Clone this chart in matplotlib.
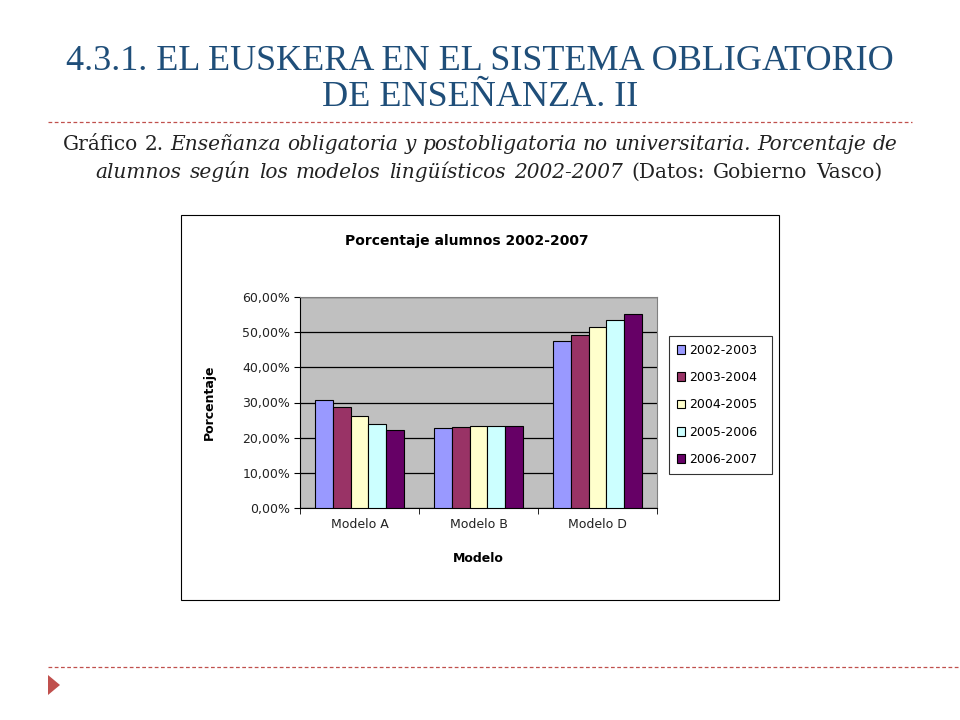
import matplotlib
matplotlib.use("Agg")
import matplotlib.pyplot as plt
from matplotlib.patches import Rectangle, Polygon
from matplotlib.ticker import FuncFormatter
import numpy as np

modelos = ["Modelo A", "Modelo B", "Modelo D"]
cursos = ["2002-2003", "2003-2004", "2004-2005", "2005-2006", "2006-2007"]
# porcentaje de alumnos por modelo, un array por curso
v_2002 = [30.6, 22.7, 47.4]
v_2003 = [28.6, 22.9, 49.1]
v_2004 = [26.1, 23.3, 51.4]
v_2005 = [23.8, 23.3, 53.4]
v_2006 = [22.1, 23.3, 55.2]
valores = [v_2002, v_2003, v_2004, v_2005, v_2006]
colores = ['#9999FF', '#993366', '#FFFFCC', '#CCFFFF', '#660066']

W, H = 960, 720
fig = plt.figure(figsize=(W / 100, H / 100), dpi=100)

def fx(px):
    return px / W

def fy(py):
    return 1 - py / H

sans = "DejaVu Sans"
azul = '#1F4E79'
rojo = '#C0504D'

# titulo de la diapositiva
fig.text(0.5, fy(62), "4.3.1. EL EUSKERA EN EL SISTEMA OBLIGATORIO",
         ha='center', va='center', fontsize=26, family="Liberation Serif", color=azul)
fig.text(0.5, fy(98), "DE ENSEÑANZA. II",
         ha='center', va='center', fontsize=26, family="Liberation Serif", color=azul)

# lineas discontinuas
fig.add_artist(plt.Line2D([fx(48), fx(912)], [fy(122), fy(122)], transform=fig.transFigure,
                          color=rojo, lw=0.9, ls=(0, (3, 2))))
fig.add_artist(plt.Line2D([fx(48), fx(968)], [fy(667), fy(667)], transform=fig.transFigure,
                          color=rojo, lw=0.9, ls=(0, (3, 2))))
fig.add_artist(Polygon([[fx(48), fy(675)], [fx(60), fy(685)], [fx(48), fy(695)]],
                       closed=True, transform=fig.transFigure, color=rojo, lw=0))

# subtitulo: palabra a palabra, justificado entre x0 y x1
renderer = fig.canvas.get_renderer()

def linea(x0, y, palabras, x1, size=14.5):
    textos = []
    for w, estilo in palabras:
        t = fig.text(0, fy(y), w, ha='left', va='baseline', fontsize=size,
                     family="DejaVu Serif", style=estilo, color='#222222')
        textos.append(t)
    anchos = [t.get_window_extent(renderer).width for t in textos]
    hueco = (x1 - x0 - sum(anchos)) / (len(textos) - 1)
    x = x0
    for t, w in zip(textos, anchos):
        t.set_x(fx(x))
        x += w + hueco

l1 = [("Gráfico", 'normal'), ("2.", 'normal')] + \
     [(w, 'italic') for w in "Enseñanza obligatoria y postobligatoria no universitaria. Porcentaje de".split()]
l2 = [(w, 'italic') for w in "alumnos según los modelos lingüísticos 2002-2007".split()] + \
     [(w, 'normal') for w in "(Datos: Gobierno Vasco)".split()]
linea(63, 150, l1, 897)
linea(95, 178, l2, 882)

# marco del grafico
fig.add_artist(Rectangle((fx(181), fy(600)), fx(779) - fx(181), fy(215) - fy(600),
                         transform=fig.transFigure, fill=False, ec='black', lw=0.8))
fig.text(fx(467), fy(241), "Porcentaje alumnos 2002-2007", ha='center', va='center',
         fontsize=10, fontweight='bold', family=sans)

ax = fig.add_axes([fx(300), fy(508), fx(657) - fx(300), fy(297) - fy(508)])
ax.set_facecolor('#C0C0C0')

x = np.arange(len(modelos))
ancho = 0.151
for i, (serie, color) in enumerate(zip(valores, colores)):
    ax.bar(x + (i - 2) * ancho, serie, ancho, color=color, edgecolor='black',
           linewidth=0.8, label=cursos[i], zorder=3)

ax.set_xlim(-0.5, 2.5)
ax.set_ylim(0, 60)
ax.set_yticks(np.arange(0, 61, 10))
ax.yaxis.set_major_formatter(FuncFormatter(lambda v, p: f"{v:.2f}%".replace('.', ',')))
ax.set_xticks(x)
ax.set_xticklabels(modelos)
ax.set_xticks([-0.5, 0.5, 1.5, 2.5], minor=True)
ax.tick_params(axis='x', which='major', length=0, pad=7)
ax.tick_params(axis='x', which='minor', length=4, direction='out')
ax.tick_params(axis='y', length=4, direction='out', pad=3)
for lab in ax.get_xticklabels() + ax.get_yticklabels():
    lab.set_family(sans)
    lab.set_fontsize(9)
    lab.set_color('#222222')
ax.grid(axis='y', color='black', lw=0.9, zorder=0)
for s in ['top', 'right']:
    ax.spines[s].set_color('#808080')

ax.set_ylabel("Porcentaje", fontsize=9, fontweight='bold', family=sans, labelpad=19)
ax.set_xlabel("Modelo", fontsize=9, fontweight='bold', family=sans, labelpad=15)

leg = ax.legend(loc='upper left',
                bbox_to_anchor=(fx(669), fy(470), fx(772) - fx(669), fy(336) - fy(470)),
                bbox_transform=fig.transFigure, mode='expand', frameon=True, fancybox=False,
                edgecolor='black', prop={'family': sans, 'size': 9},
                handlelength=0.7, handleheight=0.7, handletextpad=0.3,
                labelspacing=1.15, borderpad=0.6, borderaxespad=0)
leg.get_frame().set_linewidth(0.8)

fig.savefig("out.png", dpi=100)
